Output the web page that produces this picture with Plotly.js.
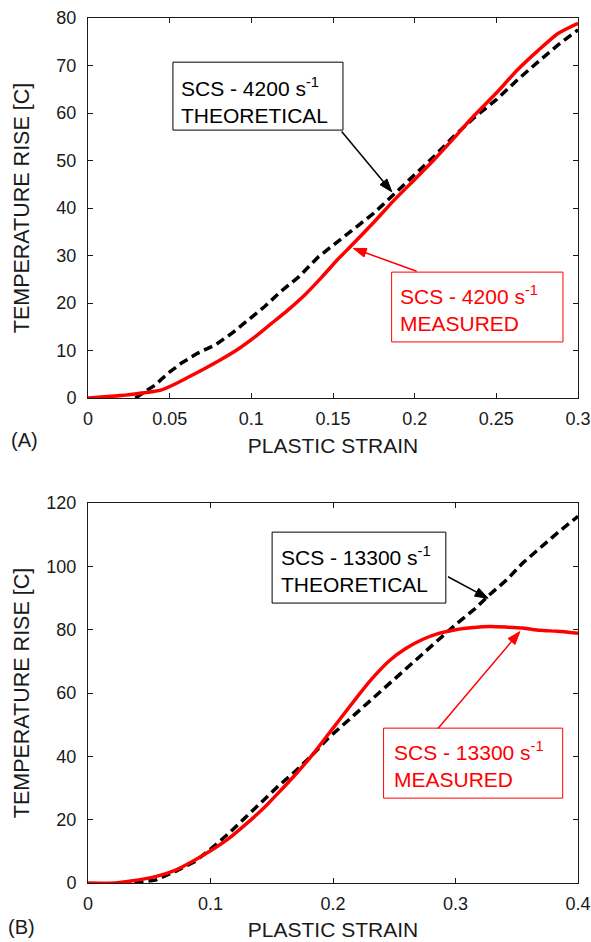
<!DOCTYPE html>
<html>
<head>
<meta charset="utf-8">
<script src="https://cdn.plot.ly/plotly-3.0.1.min.js"></script>
<style>html,body{margin:0;padding:0;background:#fff;}#chart{width:591px;height:942px;}</style>
</head>
<body>
<div id="chart"></div>
<script>
// Panel A: 4200 s^-1
const strainA_measured = [0, 0.012, 0.025, 0.037, 0.045, 0.053, 0.061, 0.071, 0.082, 0.092, 0.102, 0.112, 0.122, 0.133, 0.143, 0.153, 0.161, 0.175, 0.187, 0.2, 0.212, 0.224, 0.236, 0.25, 0.263, 0.276, 0.288, 0.3];
const tempA_measured   = [0, 0.3, 0.7, 1.2, 1.7, 2.9, 4.3, 6.1, 8.2, 10.3, 12.8, 15.6, 18.4, 21.8, 25.4, 29.2, 32.0, 37.0, 41.5, 46.0, 50.2, 54.7, 59.3, 64.2, 69.1, 73.3, 76.8, 78.9];
const strainA_theory = [0.029, 0.041, 0.049, 0.057, 0.067, 0.078, 0.088, 0.098, 0.108, 0.118, 0.129, 0.141, 0.153, 0.175, 0.187, 0.2, 0.212, 0.224, 0.236, 0.25, 0.263, 0.276, 0.288, 0.3];
const tempA_theory   = [0, 2.7, 5.2, 7.3, 9.4, 11.2, 13.6, 16.4, 19.2, 22.4, 25.5, 29.7, 33.0, 38.9, 42.8, 47.0, 50.9, 55.1, 58.9, 62.8, 67.0, 70.9, 74.4, 77.5];

// Panel B: 13300 s^-1
const strainB_measured = [0, 0.022, 0.035, 0.055, 0.071, 0.087, 0.101, 0.115, 0.128, 0.142, 0.155, 0.169, 0.183, 0.196, 0.205, 0.219, 0.232, 0.246, 0.26, 0.273, 0.287, 0.3, 0.315, 0.328, 0.342, 0.355, 0.369, 0.383, 0.4];
const tempB_measured   = [0, 0, 0.6, 2.0, 4.0, 7.2, 10.4, 14.1, 18.3, 23.1, 28.3, 34.1, 40.4, 46.9, 51.4, 58.4, 64.6, 70.2, 74.2, 76.9, 78.9, 80.0, 80.7, 81.0, 80.8, 80.5, 79.8, 79.5, 78.9];
const strainB_theory = [0.038, 0.055, 0.071, 0.087, 0.101, 0.115, 0.128, 0.142, 0.155, 0.169, 0.183, 0.196, 0.205, 0.219, 0.232, 0.246, 0.26, 0.273, 0.287, 0.3, 0.315, 0.328, 0.342, 0.355, 0.369, 0.383, 0.4];
const tempB_theory   = [0, 0.9, 3.6, 6.7, 11.0, 15.7, 20.5, 25.7, 30.5, 35.2, 40.4, 45.7, 48.8, 53.7, 58.4, 63.2, 67.9, 72.6, 77.4, 81.6, 86.3, 91.1, 95.8, 101.1, 105.8, 110.5, 115.8];

const ticksA_x = [0, 0.05, 0.1, 0.15, 0.2, 0.25, 0.3];
const ticksA_y = [0, 10, 20, 30, 40, 50, 60, 70, 80];
const ticksB_x = [0, 0.1, 0.2, 0.3, 0.4];
const ticksB_y = [0, 20, 40, 60, 80, 100, 120];

const labelA_theory = 'SCS - 4200 s<sup>-1</sup><br>THEORETICAL';
const labelA_meas   = 'SCS - 4200 s<sup>-1</sup><br>MEASURED';
const labelB_theory = 'SCS - 13300 s<sup>-1</sup><br>THEORETICAL';
const labelB_meas   = 'SCS - 13300 s<sup>-1</sup><br>MEASURED';

const FONT = 'Liberation Sans, Arial, Helvetica, sans-serif';
const RED = '#ff0000';
const INK = '#1a1a1a';

const W = 591, H = 942;
const M = {l: 88, r: 13, t: 18, b: 59};
const plotW = W - M.l - M.r, plotH = H - M.t - M.b;
const domA = [0.5607, 1], domB = [0, 0.4393];
const rangeAx = [0, 0.3], rangeAy = [0, 80], rangeBx = [0, 0.4], rangeBy = [0, 120];

const traces = [
  {x: strainA_theory, y: tempA_theory, xaxis: 'x', yaxis: 'y', mode: 'lines',
   line: {color: '#000', width: 3.5, dash: '9px,5px'}, hoverinfo: 'skip'},
  {x: strainA_measured, y: tempA_measured, xaxis: 'x', yaxis: 'y', mode: 'lines',
   line: {color: RED, width: 3.5, shape: 'spline', smoothing: 0.6}, hoverinfo: 'skip'},
  {x: strainB_theory, y: tempB_theory, xaxis: 'x2', yaxis: 'y2', mode: 'lines',
   line: {color: '#000', width: 3.5, dash: '9px,5px'}, hoverinfo: 'skip'},
  {x: strainB_measured, y: tempB_measured, xaxis: 'x2', yaxis: 'y2', mode: 'lines',
   line: {color: RED, width: 3.5, shape: 'spline', smoothing: 0.6}, hoverinfo: 'skip'}
];

function axisBase() {
  return {
    showline: true, linecolor: INK, linewidth: 1, mirror: 'ticks',
    ticks: 'inside', ticklen: 5, tickcolor: INK, tickwidth: 1,
    showgrid: false, zeroline: false,
    tickfont: {family: FONT, size: 18, color: INK}
  };
}

// Arrow = shaft line (data coords) + filled head (pixel path anchored at the tip)
function arrow(xr, yr, tail, tip, color, sx, sy) {
  const dx = (tip[0] - tail[0]) * sx, dy = (tip[1] - tail[1]) * sy;
  const len = Math.hypot(dx, dy), ux = dx / len, uy = dy / len;
  const L = 13, w = 4.5;
  const bx = -L * ux, by = -L * uy;
  const px = -uy, py = ux;
  const p1 = [bx + w * px, by + w * py], p2 = [bx - w * px, by - w * py];
  const head = {
    type: 'path', xref: xr, yref: yr, xsizemode: 'pixel', ysizemode: 'pixel',
    xanchor: tip[0], yanchor: tip[1],
    path: `M0,0 L${p1[0].toFixed(2)},${p1[1].toFixed(2)} L${p2[0].toFixed(2)},${p2[1].toFixed(2)} Z`,
    fillcolor: color, line: {color: color, width: 1}, layer: 'above'
  };
  const endX = tip[0] + (bx * 0.6) / sx, endY = tip[1] + (by * 0.6) / sy;
  const shaft = {type: 'line', xref: xr, yref: yr, x0: tail[0], y0: tail[1], x1: endX, y1: endY,
    line: {color: color, width: 1.5}, layer: 'above'};
  return [shaft, head];
}
const sAx = plotW / (rangeAx[1] - rangeAx[0]), sAy = plotH * (domA[1] - domA[0]) / (rangeAy[1] - rangeAy[0]);
const sBx = plotW / (rangeBx[1] - rangeBx[0]), sBy = plotH * (domB[1] - domB[0]) / (rangeBy[1] - rangeBy[0]);

const layout = {
  width: W, height: H,
  margin: M,
  paper_bgcolor: '#fff', plot_bgcolor: '#fff',
  showlegend: false,
  font: {family: FONT, color: INK},
  xaxis: Object.assign(axisBase(), {
    domain: [0, 1], anchor: 'y', range: rangeAx, tickvals: ticksA_x,
    ticktext: ticksA_x.map(String), ticklabelstandoff: 4,
    title: {text: 'PLASTIC STRAIN', font: {family: FONT, size: 21, color: INK}, standoff: 10}
  }),
  yaxis: Object.assign(axisBase(), {
    domain: domA, anchor: 'x', range: rangeAy, tickvals: ticksA_y,
    ticklabelstandoff: 7,
    title: {text: 'TEMPERATURE RISE [C]', font: {family: FONT, size: 21.5, color: INK}, standoff: 20}
  }),
  xaxis2: Object.assign(axisBase(), {
    domain: [0, 1], anchor: 'y2', range: rangeBx, tickvals: ticksB_x,
    ticktext: ticksB_x.map(String), ticklabelstandoff: 4,
    title: {text: 'PLASTIC STRAIN', font: {family: FONT, size: 21, color: INK}, standoff: 9}
  }),
  yaxis2: Object.assign(axisBase(), {
    domain: domB, anchor: 'x2', range: rangeBy, tickvals: ticksB_y,
    ticklabelstandoff: 7,
    title: {text: 'TEMPERATURE RISE [C]', font: {family: FONT, size: 21.5, color: INK}, standoff: 10}
  }),
  shapes: [
    {type: 'rect', xref: 'x', yref: 'y', x0: 0.052, x1: 0.1561, y0: 56.4, y1: 70.7,
     line: {color: '#000', width: 1}, fillcolor: '#fff', layer: 'above'},
    {type: 'rect', xref: 'x', yref: 'y', x0: 0.1859, x1: 0.2908, y0: 11.8, y1: 26.5,
     line: {color: RED, width: 1}, fillcolor: '#fff', layer: 'above'},
    {type: 'rect', xref: 'x2', yref: 'y2', x0: 0.1503, x1: 0.2921, y0: 88.4, y1: 110.8,
     line: {color: '#000', width: 1}, fillcolor: '#fff', layer: 'above'},
    {type: 'rect', xref: 'x2', yref: 'y2', x0: 0.2413, x1: 0.3875, y0: 26.8, y1: 48.9,
     line: {color: RED, width: 1}, fillcolor: '#fff', layer: 'above'}
  ].concat(
    arrow('x', 'y', [0.1553, 56.1], [0.186, 43.4], '#000', sAx, sAy),
    arrow('x', 'y', [0.2012, 26.7], [0.1624, 31.5], RED, sAx, sAy),
    arrow('x2', 'y2', [0.2939, 96.7], [0.3266, 89.9], '#000', sBx, sBy),
    arrow('x2', 'y2', [0.2857, 48.8], [0.3526, 79.4], RED, sBx, sBy)
  ),
  annotations: [
    {xref: 'x', yref: 'y', x: 0.0555, y: 62.7, xanchor: 'left', yanchor: 'middle', align: 'left',
     text: labelA_theory, showarrow: false, font: {family: FONT, size: 21, color: '#000'}},
    {xref: 'x', yref: 'y', x: 0.19, y: 18.8, xanchor: 'left', yanchor: 'middle', align: 'left',
     text: labelA_meas, showarrow: false, font: {family: FONT, size: 21, color: RED}},
    {xref: 'x2', yref: 'y2', x: 0.156, y: 99.0, xanchor: 'left', yanchor: 'middle', align: 'left',
     text: labelB_theory, showarrow: false, font: {family: FONT, size: 21, color: '#000'}},
    {xref: 'x2', yref: 'y2', x: 0.248, y: 37.4, xanchor: 'left', yanchor: 'middle', align: 'left',
     text: labelB_meas, showarrow: false, font: {family: FONT, size: 21, color: RED}},
    {xref: 'paper', yref: 'paper', x: -0.1286, y: 0.5121, xanchor: 'center', yanchor: 'middle',
     text: '(A)', showarrow: false, font: {family: FONT, size: 20, color: INK}},
    {xref: 'paper', yref: 'paper', x: -0.1347, y: -0.0509, xanchor: 'center', yanchor: 'middle',
     text: '(B)', showarrow: false, font: {family: FONT, size: 20, color: INK}}
  ]
};

Plotly.newPlot('chart', traces, layout, {staticPlot: true, displayModeBar: false});
</script>
</body>
</html>
